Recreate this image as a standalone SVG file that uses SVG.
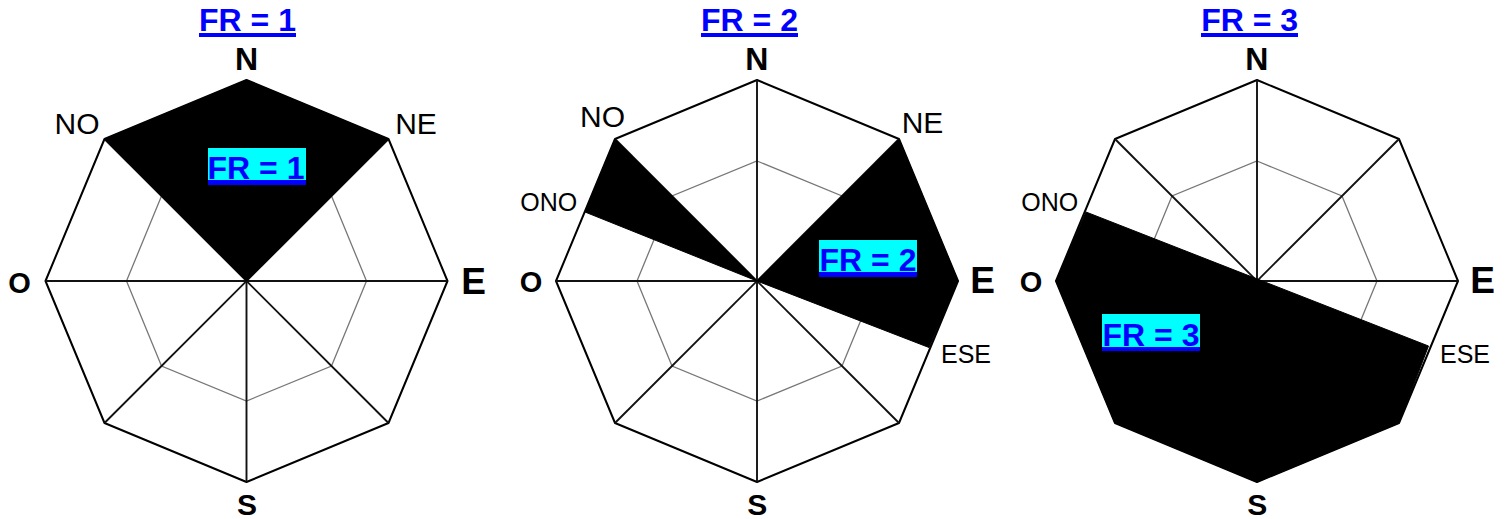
<svg xmlns="http://www.w3.org/2000/svg" width="1507" height="519" viewBox="0 0 1507 519">
<style>
  .outer{fill:#fff;stroke:#000;stroke-width:2;stroke-linejoin:round}
  .inner{fill:none;stroke:#777;stroke-width:1.3}
  .spoke{stroke:#111;stroke-width:1.9}
  .wedge{fill:#000;stroke:#000;stroke-width:1;stroke-linejoin:round}
  .card{font-family:"Liberation Sans",Arial,sans-serif;font-weight:bold;fill:#000;text-anchor:middle}
  .inter{font-family:"Liberation Sans",Arial,sans-serif;fill:#000;text-anchor:middle}
  .fr{font-family:"Liberation Sans",Arial,sans-serif;font-weight:bold;fill:#0000ff;text-anchor:middle;font-size:32px}
  .hl{fill:#00ffff}
  .ul{fill:#0000ff}
</style>
<defs>
  <g id="rose">
    <polygon class="outer" points="0,-201 142,-142 201,0 142,142 0,201 -142,142 -201,0 -142,-142"/>
    <polygon class="inner" points="0,-120 85,-85 120,0 85,85 0,120 -85,85 -120,0 -85,-85"/>
    <line class="spoke" x1="0" y1="-201" x2="0" y2="201"/>
    <line class="spoke" x1="-201" y1="0" x2="201" y2="0"/>
    <line class="spoke" x1="-142" y1="-142" x2="142" y2="142"/>
    <line class="spoke" x1="142" y1="-142" x2="-142" y2="142"/>
  </g>
</defs>
<rect width="1507" height="519" fill="#fff"/>

<g id="rose1">
  <text class="fr" x="247.5" y="30.5">FR = 1</text>
  <rect class="ul" x="199" y="33" width="97" height="4"/>
  <use href="#rose" transform="translate(246.5,281)"/>
  <polygon class="wedge" points="246.5,281 104.5,139 246.5,80 388.5,139"/>
  <rect class="hl" x="208" y="148" width="98" height="32"/>
  <rect class="ul" x="208" y="180" width="98" height="5"/>
  <text class="fr" x="256" y="178.5">FR = 1</text>
  <text class="card" x="246.5" y="69.5" font-size="32">N</text>
  <text class="inter" x="77" y="134" font-size="30">NO</text>
  <text class="inter" x="416" y="134" font-size="30">NE</text>
  <text class="card" x="19.5" y="292.5" font-size="29">O</text>
  <text class="card" x="473.5" y="294" font-size="37">E</text>
  <text class="card" x="247" y="515" font-size="30">S</text>
</g>

<g id="rose2">
  <text class="fr" x="749.5" y="30.5">FR = 2</text>
  <rect class="ul" x="701" y="33" width="97" height="4"/>
  <use href="#rose" transform="translate(757,281)"/>
  <polygon class="wedge" points="757,281 615,139 585,212"/>
  <polygon class="wedge" points="757,281 899,139 958,281 929,347.5"/>
  <rect class="hl" x="819" y="240" width="98" height="32"/>
  <rect class="ul" x="819" y="272" width="98" height="5"/>
  <text class="fr" x="868" y="270.5">FR = 2</text>
  <text class="card" x="756.7" y="69.5" font-size="32">N</text>
  <text class="inter" x="602.5" y="126.7" font-size="30">NO</text>
  <text class="inter" x="922.5" y="133.3" font-size="30">NE</text>
  <text class="inter" x="548.7" y="211" font-size="25">ONO</text>
  <text class="card" x="531" y="291.5" font-size="29">O</text>
  <text class="card" x="982.7" y="293.3" font-size="37">E</text>
  <text class="inter" x="966" y="363.3" font-size="25">ESE</text>
  <text class="card" x="757.3" y="514.5" font-size="30">S</text>
</g>

<g id="rose3">
  <text class="fr" x="1249.7" y="30.5">FR = 3</text>
  <rect class="ul" x="1201" y="33" width="97" height="4"/>
  <use href="#rose" transform="translate(1257,281)"/>
  <polygon class="wedge" points="1086,212 1056,281 1115,423 1257,482 1399,423 1428.5,346"/>
  <rect class="hl" x="1102" y="314" width="98" height="33"/>
  <rect class="ul" x="1102" y="347" width="98" height="4"/>
  <text class="fr" x="1151" y="345.5">FR = 3</text>
  <text class="card" x="1256.7" y="69.5" font-size="32">N</text>
  <text class="inter" x="1049.7" y="211" font-size="25">ONO</text>
  <text class="card" x="1031" y="291.5" font-size="29">O</text>
  <text class="card" x="1482.7" y="293.3" font-size="37">E</text>
  <text class="inter" x="1465" y="363.3" font-size="25">ESE</text>
  <text class="card" x="1257.3" y="514.5" font-size="30">S</text>
</g>
</svg>
